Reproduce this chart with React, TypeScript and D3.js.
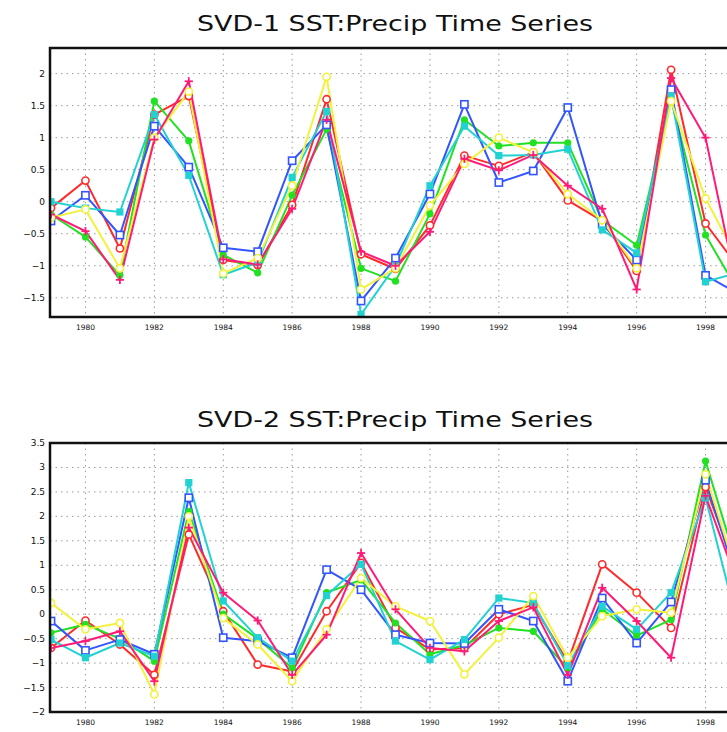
import React from "react";
import * as d3 from "d3";

const years = d3.range(1979, 2000);

// SVD-1 series
const s1Red = [-0.1, 0.33, -0.73, 1.36, 1.65, -0.91, -0.99, -0.05, 1.6, -0.82, -1.05, -0.37, 0.72, 0.56, 0.77, 0.02, -0.3, -1.08, 2.06, -0.34, -1.06];
const s1Green = [-0.2, -0.55, -1.15, 1.57, 0.95, -0.83, -1.11, 0.1, 1.13, -1.04, -1.24, -0.19, 1.28, 0.87, 0.92, 0.92, -0.29, -0.68, 1.6, -0.52, -1.45];
const s1Blue = [-0.3, 0.1, -0.52, 1.18, 0.54, -0.72, -0.78, 0.64, 1.2, -1.55, -0.88, 0.12, 1.52, 0.3, 0.48, 1.47, -0.35, -0.91, 1.75, -1.15, -1.45];
const s1Cyan = [0.0, -0.1, -0.16, 1.36, 0.41, -1.14, -0.95, 0.38, 1.41, -1.76, -1.0, 0.25, 1.18, 0.72, 0.73, 0.82, -0.44, -0.8, 1.65, -1.25, -1.1];
const s1Yellow = [-0.25, -0.12, -1.04, 1.0, 1.72, -1.12, -0.88, 0.25, 1.95, -1.37, -1.04, -0.06, 0.59, 1.0, 0.77, 0.12, -0.29, -1.04, 1.57, 0.05, -0.97];
const s1Magenta = [-0.2, -0.46, -1.22, 0.97, 1.88, -0.9, -0.98, -0.11, 1.28, -0.78, -1.0, -0.47, 0.67, 0.49, 0.73, 0.25, -0.11, -1.37, 1.93, 1.0, -1.57];

// SVD-2 series
const s2Red = [-0.69, -0.13, -0.62, -1.24, 1.63, 0.06, -1.03, -1.17, 0.06, 1.05, -0.28, -0.72, -0.69, 0.0, 0.19, -0.98, 1.02, 0.44, -0.28, 2.6, 0.7];
const s2Green = [-0.38, -0.21, -0.5, -0.96, 2.1, 0.0, -0.5, -1.1, 0.44, 0.7, -0.18, -0.82, -0.63, -0.28, -0.35, -1.1, 0.1, -0.44, -0.11, 3.13, 0.8];
const s2Blue = [-0.14, -0.74, -0.52, -0.82, 2.38, -0.48, -0.55, -0.89, 0.91, 0.5, -0.42, -0.59, -0.6, 0.1, -0.14, -1.37, 0.33, -0.59, 0.25, 2.74, 0.5];
const s2Cyan = [-0.52, -0.89, -0.59, -0.86, 2.69, 0.27, -0.48, -0.96, 0.38, 1.02, -0.55, -0.93, -0.52, 0.33, 0.23, -1.05, 0.16, -0.31, 0.44, 2.38, -0.4];
const s2Yellow = [0.23, -0.31, -0.18, -1.64, 2.0, -0.08, -0.62, -1.37, -0.31, 0.74, 0.16, -0.14, -1.23, -0.48, 0.37, -0.89, -0.04, 0.1, 0.03, 2.86, 0.6];
const s2Magenta = [-0.69, -0.55, -0.35, -1.37, 1.77, 0.44, -0.13, -1.24, -0.42, 1.25, 0.1, -0.69, -0.76, -0.14, 0.14, -1.24, 0.54, -0.14, -0.89, 2.42, 0.5];

const seriesStyles = [
  { color: "#ff2a2a", marker: "circleOpen" },
  { color: "#22e022", marker: "circleFilled" },
  { color: "#3355ff", marker: "squareOpen" },
  { color: "#22d2d2", marker: "squareFilled" },
  { color: "#f2f23a", marker: "circleOpen" },
  { color: "#ff1a78", marker: "plus" },
];

const panel1 = [s1Red, s1Green, s1Blue, s1Cyan, s1Yellow, s1Magenta];
const panel2 = [s2Red, s2Green, s2Blue, s2Cyan, s2Yellow, s2Magenta];

const yTicks1 = [-1.5, -1, -0.5, 0, 0.5, 1, 1.5, 2];
const yTicks2 = [-2, -1.5, -1, -0.5, 0, 0.5, 1, 1.5, 2, 2.5, 3, 3.5];
const xTicks = [1980, 1982, 1984, 1986, 1988, 1990, 1992, 1994, 1996, 1998];

const fmt = (v: number) => (v === 0 ? "0" : String(v).replace("-", "\u2212"));

function Marker({ type, x, y, color }: { type: string; x: number; y: number; color: string }) {
  const r = 3.6;
  if (type === "circleOpen") return <circle cx={x} cy={y} r={r} fill="white" stroke={color} strokeWidth={1.6} />;
  if (type === "circleFilled") return <circle cx={x} cy={y} r={r} fill={color} />;
  if (type === "squareOpen") return <rect x={x - r} y={y - r} width={2 * r} height={2 * r} fill="white" stroke={color} strokeWidth={1.6} />;
  if (type === "squareFilled") return <rect x={x - r} y={y - r} width={2 * r} height={2 * r} fill={color} />;
  return (
    <g stroke={color} strokeWidth={1.8}>
      <line x1={x - r - 0.5} x2={x + r + 0.5} y1={y} y2={y} />
      <line x1={x} x2={x} y1={y - r - 0.5} y2={y + r + 0.5} />
    </g>
  );
}

function Panel({ title, titleY, top, bottom, domain, yTicks, data, id }: any) {
  const left = 50;
  const right = 760;
  const x = d3.scaleLinear().domain([1979, 1999]).range([51, 740]);
  const y = d3.scaleLinear().domain(domain).range([bottom, top]);
  const line = d3
    .line<number>()
    .x((_, i) => x(years[i]))
    .y((d) => y(d));
  return (
    <g>
      <text x={395} y={titleY} textAnchor="middle" fontFamily="DejaVu Sans" fontSize={21} fill="#111" textLength={396} lengthAdjust="spacingAndGlyphs">
        {title}
      </text>
      <clipPath id={id}>
        <rect x={left} y={top} width={right - left} height={bottom - top} />
      </clipPath>
      <rect x={left} y={top} width={right - left} height={bottom - top} fill="white" />
      {yTicks.map((t: number) => (
        <line key={"h" + t} x1={left} x2={right} y1={y(t)} y2={y(t)} stroke="#9a9a9a" strokeWidth={1} strokeDasharray="1.5,4" />
      ))}
      {xTicks.map((t) => (
        <line key={"v" + t} x1={x(t)} x2={x(t)} y1={top} y2={bottom} stroke="#9a9a9a" strokeWidth={1} strokeDasharray="1.5,4" />
      ))}
      <g clipPath={`url(#${id})`}>
        {data.map((s: number[], k: number) => (
          <path key={"l" + k} d={line(s) || ""} fill="none" stroke={seriesStyles[k].color} strokeWidth={2} strokeLinejoin="round" />
        ))}
        {data.map((s: number[], k: number) =>
          s.map((v, i) => <Marker key={`m${k}-${i}`} type={seriesStyles[k].marker} x={x(years[i])} y={y(v)} color={seriesStyles[k].color} />)
        )}
      </g>
      <rect x={left} y={top} width={right - left} height={bottom - top} fill="none" stroke="#111" strokeWidth={2.5} />
      {yTicks.map((t: number) => (
        <text key={"yl" + t} x={45} y={y(t) + 3} textAnchor="end" fontFamily="DejaVu Sans" fontSize={9} fill="#111">
          {fmt(t)}
        </text>
      ))}
      {xTicks.map((t) => (
        <text key={"xl" + t} x={x(t)} y={bottom + 13} textAnchor="middle" fontFamily="DejaVu Sans" fontSize={7.5} fill="#111">
          {t}
        </text>
      ))}
    </g>
  );
}

export default function App() {
  return (
    <div style={{ position: "absolute", left: 0, top: 0, width: 727, height: 732, overflow: "hidden", background: "white" }}>
      <svg width={727} height={732} style={{ display: "block" }}>
        <rect width={727} height={732} fill="white" />
        <Panel id="c1" title="SVD-1 SST:Precip Time Series" titleY={31} top={48} bottom={317} domain={[-1.8, 2.4]} yTicks={yTicks1} data={panel1} />
        <Panel id="c2" title="SVD-2 SST:Precip Time Series" titleY={427} top={443} bottom={712} domain={[-2, 3.5]} yTicks={yTicks2} data={panel2} />
      </svg>
    </div>
  );
}
